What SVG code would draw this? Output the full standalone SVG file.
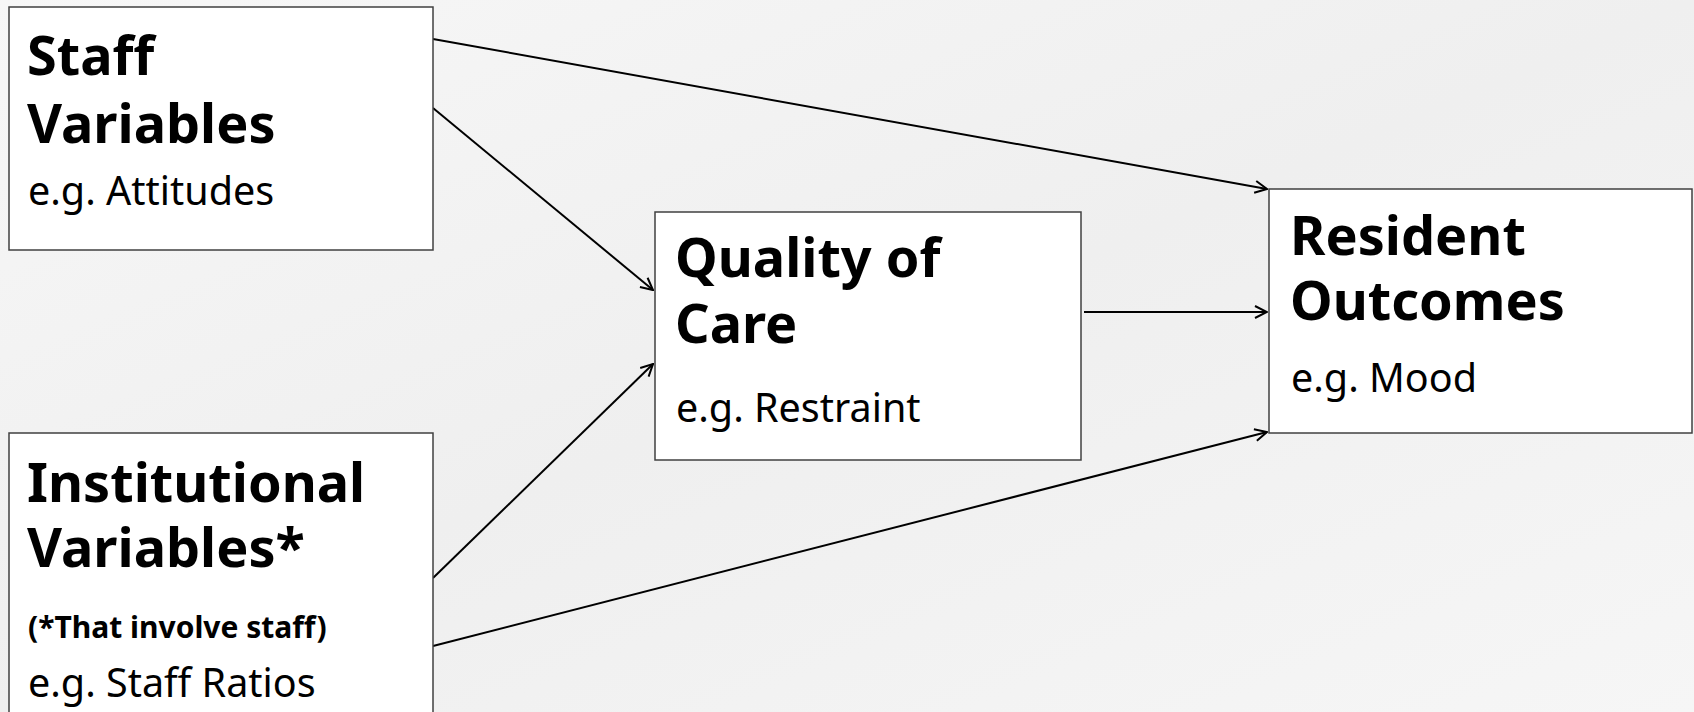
<svg xmlns="http://www.w3.org/2000/svg" width="1694" height="712" viewBox="0 0 1694 712">
<defs>
<linearGradient id="bg" x1="0" y1="0" x2="1" y2="1">
<stop offset="0" stop-color="#f7f7f7"/>
<stop offset="0.5" stop-color="#efefef"/>
<stop offset="1" stop-color="#f6f6f6"/>
</linearGradient>
<marker id="arr" viewBox="0 0 14 14" refX="13" refY="7" markerWidth="14" markerHeight="14" markerUnits="userSpaceOnUse" orient="auto">
<path d="M1,1 L13,7 L1,13" fill="none" stroke="#000" stroke-width="2"/>
</marker>
<style>
.box{fill:#fff;stroke:#404040;stroke-width:1.5}
.t{font-family:"Noto Sans","Open Sans",sans-serif;fill:#000}
.h{font-weight:bold;font-size:54px}
.s{font-size:39.5px;font-weight:normal}
.n{font-weight:bold;font-size:30px}
.c{stroke:#000;stroke-width:2;fill:none;marker-end:url(#arr)}
</style>
</defs>
<rect width="1694" height="712" fill="url(#bg)"/>
<g id="connectors">
<line class="c" x1="433" y1="39" x2="1267" y2="189"/>
<line class="c" x1="433" y1="108" x2="653" y2="290"/>
<line class="c" x1="433" y1="578" x2="653" y2="364"/>
<line class="c" x1="433" y1="646" x2="1267" y2="432"/>
<line class="c" x1="1084" y1="312" x2="1267" y2="312"/>
</g>
<g id="staff">
<rect class="box" x="9" y="7" width="424" height="243"/>
<text class="t"><tspan class="h" x="27" y="75">Staff</tspan><tspan class="h" x="27" y="143">Variables</tspan><tspan class="s" x="28" y="205">e.g. Attitudes</tspan></text>
</g>
<g id="institutional">
<rect class="box" x="9" y="433" width="424" height="290"/>
<text class="t"><tspan class="h" x="27" y="502">Institutional</tspan><tspan class="h" x="27" y="567">Variables*</tspan><tspan class="n" x="28" y="638">(*That involve staff)</tspan><tspan class="s" x="28" y="697">e.g. Staff Ratios</tspan></text>
</g>
<g id="quality">
<rect class="box" x="655" y="212" width="426" height="248"/>
<text class="t"><tspan class="h" x="675" y="277">Quality of</tspan><tspan class="h" x="675" y="343">Care</tspan><tspan class="s" x="676" y="422">e.g. Restraint</tspan></text>
</g>
<g id="resident">
<rect class="box" x="1269" y="189" width="423" height="244"/>
<text class="t"><tspan class="h" x="1290" y="255">Resident</tspan><tspan class="h" x="1290" y="320">Outcomes</tspan><tspan class="s" x="1291" y="392">e.g. Mood</tspan></text>
</g>
</svg>
